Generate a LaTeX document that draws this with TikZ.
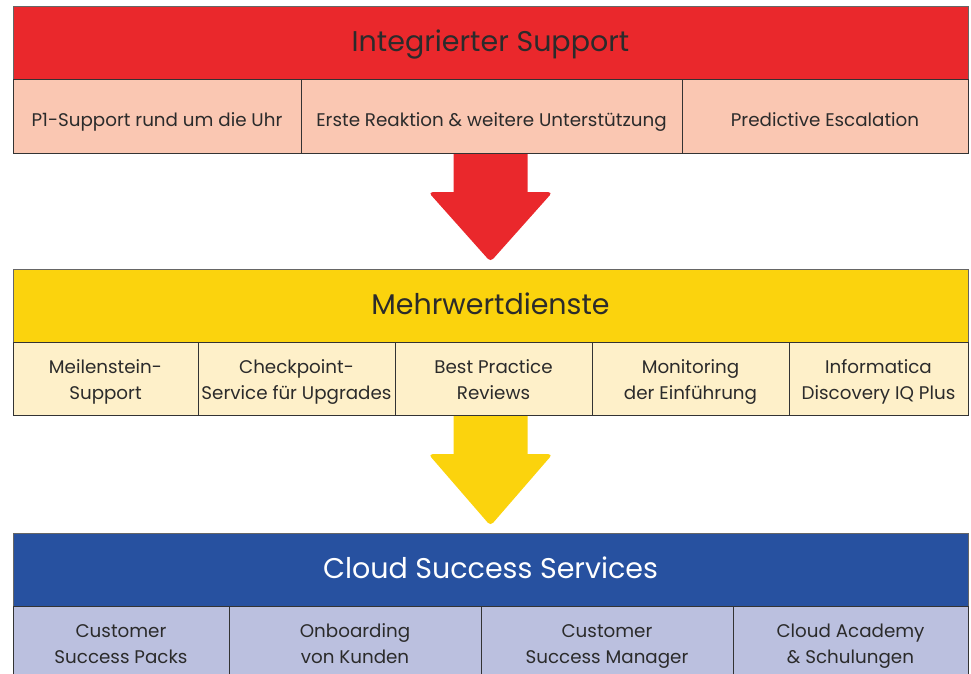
\documentclass[tikz,border=0pt]{standalone}
\usepackage{fontspec}
\setmainfont{Poppins}
\usetikzlibrary{calc,backgrounds}
\definecolor{supred}{HTML}{EA282C}
\definecolor{suplight}{HTML}{FAC7B2}
\definecolor{addyellow}{HTML}{FBD30D}
\definecolor{addlight}{HTML}{FEF0C9}
\definecolor{cloudblue}{HTML}{2751A0}
\definecolor{cloudlight}{HTML}{BBC0DF}
\definecolor{inkgray}{HTML}{2B2B2B}

\begin{document}
\begin{tikzpicture}[x=1pt,y=-1pt,
  head/.style={draw=black!60, minimum width=955, minimum height=73, inner sep=0},
  headtext/.style={inner sep=0, text=inkgray, font=\fontsize{28.5}{34}\selectfont,
    execute at begin node=\strut},
  cell/.style={draw=black!80, minimum height=74, inner sep=0},
  celltext/.style={inner sep=0, align=center, text=inkgray,
    font=\fontsize{18.3}{26}\selectfont,
    execute at begin node=\strut, execute at end node=\strut}]
\useasboundingbox (0,0) rectangle (971,674);

% blocks
\node[head, fill=supred] (isup) at (490.5,42.5) {};
\node[headtext, yshift=-2] (isup-t) at (isup) {Integrierter Support};
\foreach \l/\r/\n/\t in {13/301/pone/{P1-Support rund um die Uhr},
    301/682/react/{Erste Reaktion \& weitere Unterstützung},
    682/968/pesc/{Predictive Escalation}} {
  \node[cell, fill=suplight, minimum width={\r-\l}] (\n) at ({(\l+\r)/2},116) {};
  \node[celltext, yshift=-5] (\n-t) at (\n) {\t};
}

\node[head, fill=addyellow] (mwd) at (490.5,305.5) {};
\node[headtext, yshift=-2] (mwd-t) at (mwd) {Mehrwertdienste};
\foreach \l/\r/\n/\t in {13/198/mile/{Meilenstein-\\Support},
    198/395/check/{Checkpoint-\\Service für Upgrades},
    395/592/best/{Best Practice\\Reviews},
    592/789/moni/{Monitoring\\der Einführung},
    789/968/disc/{Informatica\\Discovery IQ Plus}} {
  \node[cell, fill=addlight, minimum width={\r-\l}, minimum height=73] (\n) at ({(\l+\r)/2},378.5) {};
  \node[celltext, yshift=-4.5] (\n-t) at (\n) {\t};
}

\node[head, fill=cloudblue] (css) at (490.5,569.5) {};
\node[headtext, text=white, yshift=-2] (css-t) at (css) {Cloud Success Services};
\foreach \l/\r/\n/\t in {13/229/packs/{Customer\\Success Packs},
    229/481/onb/{Onboarding\\von Kunden},
    481/733/csm/{Customer\\Success Manager},
    733/968/acad/{Cloud Academy\\\& Schulungen}} {
  \node[cell, fill=cloudlight, minimum width={\r-\l}, minimum height=76] (\n) at ({(\l+\r)/2},644) {};
  \node[celltext, yshift=-3.5] (\n-t) at (\n) {\t};
}

% arrows between the blocks
\begin{scope}[on background layer]
\foreach \a/\b/\c/\col in {isup/react/mwd/supred, mwd/best/css/addyellow} {
  \coordinate (top) at (\a |- \b.south);
  \coordinate (tip) at ($(\c.north)+(0,-7)$);
  \fill[\col] ($(top)+(-37,-5)$) -- ($(top)+(-37,39)$)
    [rounded corners=4] -- ($(top)+(-62,39)$) -- (tip) -- ($(top)+(62,39)$)
    [sharp corners] -- ($(top)+(37,39)$) -- ($(top)+(37,-5)$) -- cycle;
}
\end{scope}
\end{tikzpicture}
\end{document}
